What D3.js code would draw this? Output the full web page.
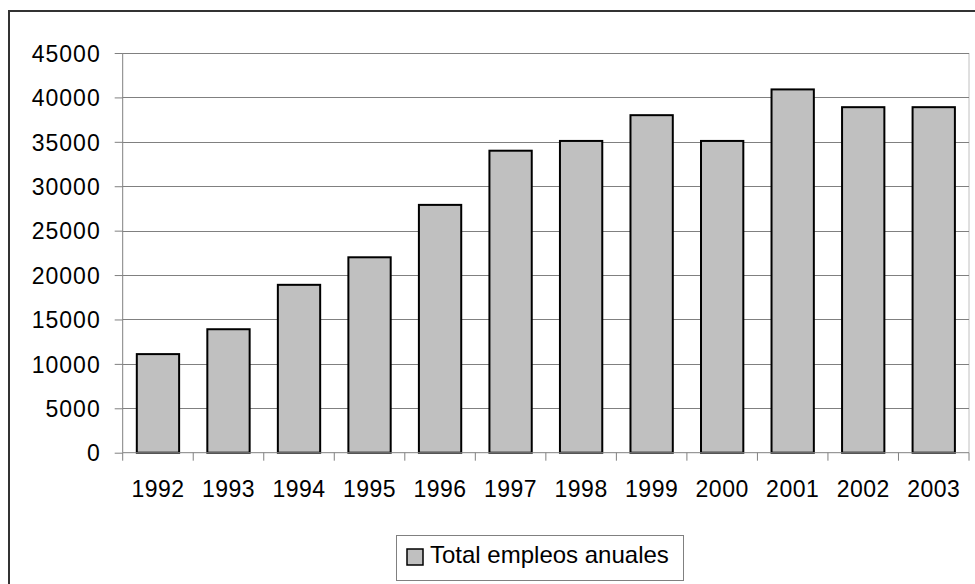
<html>
<script src="https://d3js.org/d3.v7.min.js"></script>
<style>
body { margin: 0; background: #fff; }
text { font-family: "Liberation Sans", Arial, sans-serif; fill: #000; }
</style>
<body>
<svg width="975" height="584"></svg>
<script>
var years = ["1992","1993","1994","1995","1996","1997","1998","1999","2000","2001","2002","2003"];
var empleos = [11100, 13900, 18900, 22000, 27900, 34000, 35100, 38000, 35100, 40900, 38900, 38900];
var yTicks = [0,5000,10000,15000,20000,25000,30000,35000,40000,45000];
var seriesName = "Total empleos anuales";

var svg = d3.select("svg");
var pLeft = 122.7, pRight = 969, pTop = 53, pBottom = 452.7;

// outer frame (only left and top visible, rest is off canvas)
svg.append("rect").attr("x", 9).attr("y", 11).attr("width", 1000).attr("height", 1000)
	.attr("fill", "none").attr("stroke", "#333").attr("stroke-width", 2);

var x = d3.scaleBand().domain(years).range([pLeft, pRight]).paddingInner(0.4).paddingOuter(0.2);
var y = d3.scaleLinear().domain([0, 45000]).range([pBottom, pTop]);

// plot area border on the right
svg.append("line").attr("x1", pRight).attr("x2", pRight).attr("y1", pTop).attr("y2", pBottom)
	.attr("stroke", "#c0c0c0").attr("stroke-width", 1);

// gridlines
svg.append("g").selectAll("line").data(yTicks.slice(1)).enter().append("line")
	.attr("x1", pLeft).attr("x2", pRight)
	.attr("y1", function(d){ return Math.round(y(d)) + 0.5; })
	.attr("y2", function(d){ return Math.round(y(d)) + 0.5; })
	.attr("stroke", "#808080").attr("stroke-width", 1);

// bars
svg.append("g").selectAll("rect").data(years).enter().append("rect")
	.attr("x", function(d){ return x(d); })
	.attr("y", function(d, i){ return y(empleos[i]); })
	.attr("width", x.bandwidth())
	.attr("height", function(d, i){ return y(0) - y(empleos[i]); })
	.attr("fill", "#c0c0c0").attr("stroke", "#000").attr("stroke-width", 2);

// y axis
var yAxis = svg.append("g").attr("transform", "translate(" + pLeft + ",0)")
	.call(d3.axisLeft(y).tickValues(yTicks).tickSize(8).tickPadding(14).tickFormat(function(d){ return d; }));
yAxis.select(".domain").attr("stroke", "#808080").attr("d", "M0," + pTop + "V" + pBottom);
yAxis.selectAll(".tick line").attr("stroke", "#808080");
yAxis.selectAll(".tick text").style("font-size", "23px").style("letter-spacing", "1px")
	.attr("font-family", null).attr("dy", "0.36em");

// x axis line + ticks at category boundaries
svg.append("line").attr("x1", pLeft).attr("x2", pRight).attr("y1", pBottom).attr("y2", pBottom)
	.attr("stroke", "#808080");
var bounds = d3.range(years.length + 1).map(function(i){ return pLeft + i * x.step(); });
svg.append("g").selectAll("line").data(bounds).enter().append("line")
	.attr("x1", function(d){ return d; }).attr("x2", function(d){ return d; })
	.attr("y1", pBottom).attr("y2", pBottom + 8)
	.attr("stroke", "#808080");
svg.append("g").selectAll("text").data(years).enter().append("text")
	.attr("x", function(d){ return x(d) + x.bandwidth() / 2; })
	.attr("y", 497)
	.attr("text-anchor", "middle")
	.style("font-size", "23px").style("letter-spacing", "0.5px")
	.text(function(d){ return d; });

// legend
var lg = svg.append("g");
lg.append("rect").attr("x", 396.5).attr("y", 535.5).attr("width", 287).attr("height", 45)
	.attr("fill", "#fff").attr("stroke", "#808080");
lg.append("rect").attr("x", 407).attr("y", 549).attr("width", 16).attr("height", 16)
	.attr("fill", "#c0c0c0").attr("stroke", "#000").attr("stroke-width", 1.5);
lg.append("text").attr("x", 430).attr("y", 563).style("font-size", "24px").text(seriesName);
</script>
</body>
</html>
